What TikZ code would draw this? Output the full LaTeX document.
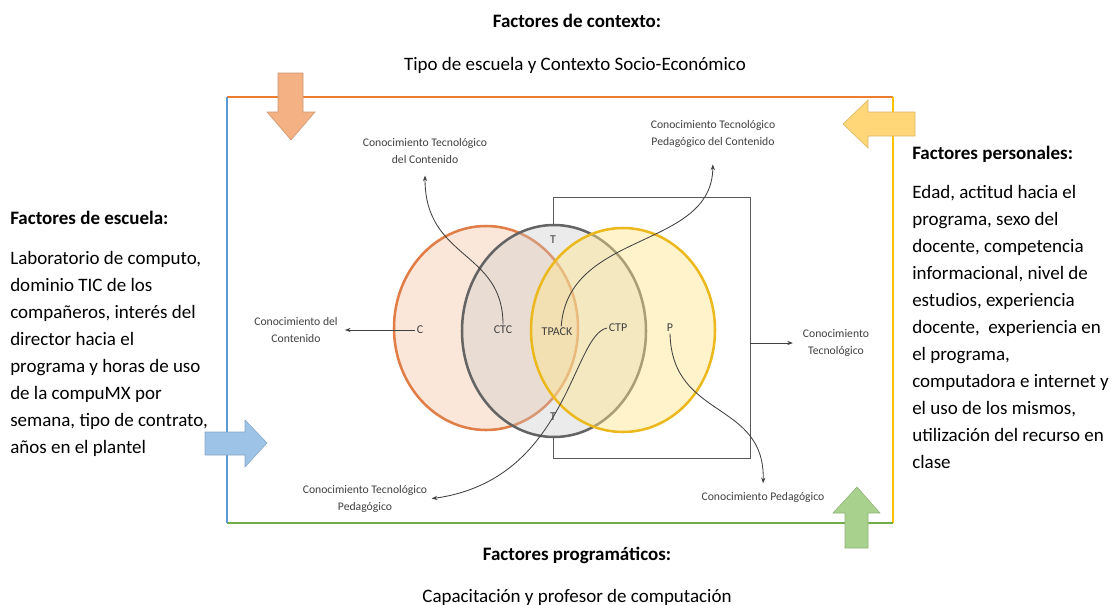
\documentclass[tikz,border=0pt]{standalone}
\usepackage{fontspec}
\setmainfont{Carlito}
\usetikzlibrary{arrows.meta}

\definecolor{frameorange}{RGB}{237,125,49}
\definecolor{frameyellow}{RGB}{255,192,0}
\definecolor{framegreen}{RGB}{112,173,71}
\definecolor{frameblue}{RGB}{91,155,213}
\definecolor{arroworange}{RGB}{244,177,131}
\definecolor{arrowyellow}{RGB}{255,214,120}
\definecolor{arrowblue}{RGB}{157,195,230}
\definecolor{arrowgreen}{RGB}{169,209,142}
\definecolor{cfill}{RGB}{248,203,173}
\definecolor{crim}{RGB}{225,125,70}
\definecolor{tfill}{RGB}{200,200,200}
\definecolor{trim}{RGB}{100,100,100}
\definecolor{pfill}{RGB}{255,230,140}
\definecolor{prim}{RGB}{235,185,30}
\definecolor{labelgray}{RGB}{64,64,64}

\begin{document}
\begin{tikzpicture}[x=0.025cm,y=-0.025cm,
    body/.style={font=\fontsize{13.5}{19.2}\selectfont,inner sep=0pt},
    head/.style={inner sep=0pt,font=\fontsize{13.5}{19.2}\selectfont\bfseries},
    know/.style={font=\fontsize{8.3}{11.7}\selectfont,text=labelgray,align=center,inner sep=1pt},
    part/.style={font=\fontsize{8.5}{10}\selectfont,text=labelgray,inner sep=1pt},
    conn/.style={draw=labelgray,line width=0.6pt,-{Stealth[length=4pt,width=3pt]}},
    side/.style={line width=1.6pt},
    bigarrow/.style={line width=0.4pt}]

\useasboundingbox (0,0) rectangle (1112,605);

% Frame, one colour per side
\draw[side,frameorange] (227,97) -- (893,97);
\draw[side,frameyellow] (893,97) -- (893,523);
\draw[side,framegreen] (227,523) -- (893,523);
\draw[side,frameblue] (227,97) -- (227,523);

% Box of the T circle
\node[draw=gray!70!black,line width=0.6pt,minimum width=4.925cm,minimum height=6.525cm,inner sep=0pt] (tbox) at (651.5,327.5) {};

% Three circles
\fill[white] (486,328) ellipse [x radius=92,y radius=102]
             (554,331) ellipse [x radius=92,y radius=106]
             (623,330) ellipse [x radius=92,y radius=102];
\draw[fill=cfill,fill opacity=0.45,draw=crim,line width=1.8pt] (486,328) ellipse [x radius=92,y radius=102];
\draw[fill=tfill,fill opacity=0.35,draw=trim,line width=1.8pt] (554,331) ellipse [x radius=92,y radius=106];
\draw[fill=pfill,fill opacity=0.45,draw=prim,line width=1.8pt] (623,330) ellipse [x radius=92,y radius=102];

% Parts of the diagram
\node[part] (c) at (420,330) {C};
\node[part] (ctc) at (503,330) {CTC};
\node[part] (tpack) at (557,332) {TPACK};
\node[part] (ctp) at (618,328) {CTP};
\node[part] (p) at (670,328) {P};
\node[part] (ttop) at (553,240) {T};
\node[part] (tbot) at (553,417) {T};

% Kinds of knowledge
\node[know] (kc) at (296,330) {Conocimiento del\\Contenido};
\node[know] (ktc) at (425,151) {Conocimiento Tecnológico\\del Contenido};
\node[know] (ktpc) at (713,134) {Conocimiento Tecnológico\\Pedagógico del Contenido};
\node[know] (kt) at (836,343) {Conocimiento\\Tecnológico};
\node[know] (ktp) at (365,499) {Conocimiento Tecnológico\\Pedagógico};
\node[know] (kp) at (763,497) {Conocimiento Pedagógico};

\draw[conn,shorten >=4pt] (c.west) -- (kc.east);
\draw[conn,shorten >=6pt] (tbox.east |- kt.west) -- (kt.west);
\draw[conn,shorten >=7.5pt] (ctc.north) .. controls (503,250) and (425,260) .. (ktc.south);
\draw[conn,shorten >=11pt] ([xshift=3pt]tpack.north) .. controls (568,230) and (712,250) .. (ktpc.south);
\draw[conn,shorten >=2pt] (ctp.west) .. controls (572,335) and (568,480) .. (ktp.east);
\draw[conn,shorten >=5pt] (p.south) .. controls (672,420) and (765,400) .. (kp.north);

% Factors
\node[head,anchor=base] (ctxhead) at (577,27) {Factores de contexto:};
\node[body,anchor=base] (ctxbody) at (575,70) {Tipo de escuela y Contexto Socio-Económico};
\node[head,anchor=base] (proghead) at (577,560) {Factores programáticos:};
\node[body,anchor=base] (progbody) at (577,602) {Capacitación y profesor de computación};
\node[head,anchor=base west] (schoolhead) at (10,224) {Factores de escuela:};
\node[body,align=left,anchor=base west] (schoolbody) at (10,453) {Laboratorio de computo,\\dominio TIC de los\\compañeros, interés del\\director hacia el\\programa y horas de uso\\de la compuMX por\\semana, tipo de contrato,\\años en el plantel};
\node[head,anchor=base west] (perhead) at (912,159) {Factores personales:};
\node[body,align=left,anchor=base west] (perbody) at (912,468) {Edad, actitud hacia el\\programa, sexo del\\docente, competencia\\informacional, nivel de\\estudios, experiencia\\docente,\ \ experiencia en\\el programa,\\computadora e internet y\\el uso de los mismos,\\utilización del recurso en\\clase};

% Block arrows over the frame
\filldraw[bigarrow,fill=arroworange,draw=arroworange!85!black] (278,73) -- (303,73) -- (303,112) -- (315,112) -- (291,140) -- (267,112) -- (278,112) -- cycle;
\filldraw[bigarrow,fill=arrowyellow,draw=arrowyellow!85!black] (915,112) -- (915,136) -- (868,136) -- (868,148) -- (843,124) -- (868,100) -- (868,112) -- cycle;
\filldraw[bigarrow,fill=arrowblue,draw=arrowblue!85!black] (205,432) -- (245,432) -- (245,420) -- (267,443) -- (245,467) -- (245,455) -- (205,455) -- cycle;
\filldraw[bigarrow,fill=arrowgreen,draw=arrowgreen!85!black] (845,548) -- (845,513) -- (833,513) -- (857,487) -- (880,513) -- (868,513) -- (868,548) -- cycle;

\end{tikzpicture}
\end{document}
